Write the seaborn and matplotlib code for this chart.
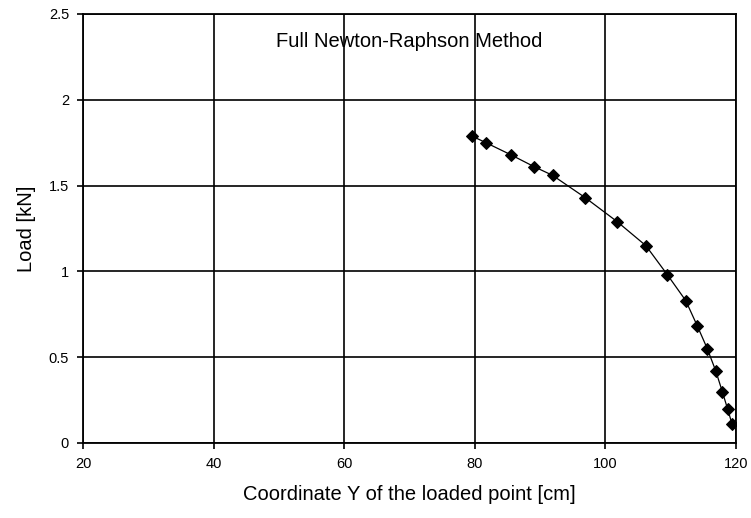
import matplotlib
matplotlib.use("Agg")
import matplotlib.pyplot as plt
import seaborn as sns
import pandas as pd

# Data
coord_y = [79.5, 81.7, 85.5, 89.1, 91.9, 96.9, 101.8, 106.2, 109.5,
           112.3, 114.1, 115.6, 116.9, 117.9, 118.7, 119.4]
load_kn = [1.79, 1.75, 1.68, 1.61, 1.56, 1.43, 1.29, 1.15, 0.98,
           0.83, 0.68, 0.55, 0.42, 0.30, 0.20, 0.11]
x_ticks = [20, 40, 60, 80, 100, 120]
y_ticks = [0, 0.5, 1, 1.5, 2, 2.5]
y_tick_labels = ["0", "0.5", "1", "1.5", "2", "2.5"]

title_text = "Full Newton-Raphson Method"
x_label = "Coordinate Y of the loaded point [cm]"
y_label = "Load [kN]"

sns.set_theme(style="white")
plt.rcParams["font.family"] = ["Liberation Sans", "DejaVu Sans"]

df = pd.DataFrame({"x": coord_y, "y": load_kn})

fig = plt.figure(figsize=(7.51, 5.18), dpi=100)
ax = fig.add_axes([83 / 751, 1 - 443 / 518, (736 - 83) / 751, (443 - 14) / 518])

sns.lineplot(data=df, x="x", y="y", ax=ax, color="black", linewidth=0.9,
             marker="D", markersize=6.5, markeredgecolor="black",
             markerfacecolor="black", sort=False)

ax.set_xlim(20, 120)
ax.set_ylim(0, 2.5)
ax.set_xticks(x_ticks)
ax.set_xticklabels([str(t) for t in x_ticks])
ax.set_yticks(y_ticks)
ax.set_yticklabels(y_tick_labels)

ax.grid(True, color="black", linewidth=1.2)
ax.set_axisbelow(True)
for s in ax.spines.values():
    s.set_visible(True)
    s.set_color("black")
    s.set_linewidth(1.3)

ax.tick_params(axis="both", which="major", direction="out", length=4,
               width=1.2, color="black", labelsize=10.5, labelcolor="black",
               bottom=True, left=True, pad=6)

ax.set_xlabel(x_label, fontsize=14.5, color="black", labelpad=10)
ax.set_ylabel(y_label, fontsize=14.5, color="black", labelpad=9)

ax.text(0.5, 0.935, title_text, transform=ax.transAxes, ha="center",
        va="center", fontsize=14.5, color="black")

fig.savefig("out.png", dpi=100, facecolor="white")
